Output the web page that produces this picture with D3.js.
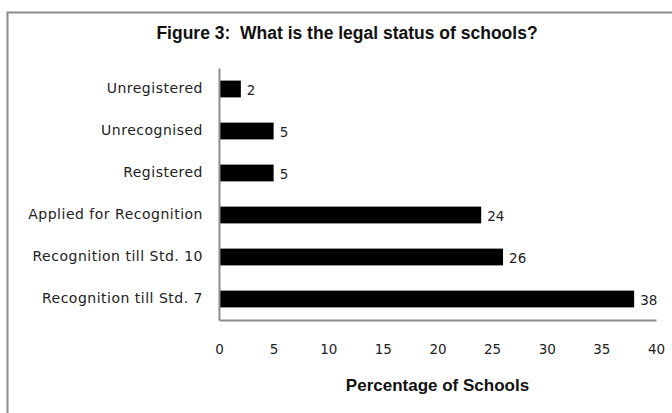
<!DOCTYPE html>
<html>
<head>
<meta charset="utf-8">
<script src="https://cdn.jsdelivr.net/npm/d3@7"></script>
<style>
  body { margin: 0; background: #fff; }
  svg { display: block; }
</style>
</head>
<body>
<svg></svg>
<script>
var categories = ["Unregistered", "Unrecognised", "Registered", "Applied for Recognition",
                  "Recognition till Std. 10", "Recognition till Std. 7"];
var values = [2, 5, 5, 24, 26, 38];
var xTicks = [0, 5, 10, 15, 20, 25, 30, 35, 40];

var svg_width = 672;
var svg_height = 413;
var margin = { top: 68, right: 16, bottom: 93, left: 219 };
var width = svg_width - margin.left - margin.right;
var height = svg_height - margin.top - margin.bottom;

var svg = d3.select("svg")
  .attr("width", svg_width)
  .attr("height", svg_height);

// outer frame, runs off the right and bottom
svg.append("rect")
  .attr("x", 7.5).attr("y", 12.5)
  .attr("width", 700).attr("height", 450)
  .attr("fill", "none")
  .attr("stroke", "#8c8c8c")
  .attr("stroke-width", 2);

svg.append("text")
  .attr("x", 347).attr("y", 39)
  .attr("text-anchor", "middle")
  .attr("font-family", "Liberation Sans, Arial, sans-serif")
  .attr("font-weight", "bold")
  .attr("font-size", "17.5px")
  .attr("fill", "#111")
  .text("Figure 3:  What is the legal status of schools?")
  .style("white-space", "pre");

var group = svg.append("g")
  .attr("transform", "translate(" + margin.left + "," + margin.top + ")");

var x = d3.scaleLinear().domain([0, 40]).range([0, 437]);
var y = d3.scaleBand().domain(categories).range([0, height]).paddingInner(0.6).paddingOuter(0.3);

group.selectAll(".bar")
  .data(values)
  .enter().append("rect")
  .attr("x", 0)
  .attr("y", function(d, i) { return y(categories[i]); })
  .attr("width", function(d) { return x(d); })
  .attr("height", y.bandwidth())
  .attr("fill", "#000");

group.selectAll(".val")
  .data(values)
  .enter().append("text")
  .attr("x", function(d) { return x(d) + 6; })
  .attr("y", function(d, i) { return y(categories[i]) + y.bandwidth() / 2 + 1; })
  .attr("dy", "0.35em")
  .attr("font-family", "DejaVu Sans, sans-serif")
  .attr("font-size", "13.5px")
  .attr("fill", "#222")
  .text(function(d) { return d; });

// y axis
var yAxis = group.append("g")
  .call(d3.axisLeft(y).tickSize(0).tickPadding(16));
yAxis.select(".domain").attr("stroke", "#8c8c8c").attr("stroke-width", 2);
yAxis.selectAll("text")
  .attr("font-family", "DejaVu Sans, sans-serif")
  .attr("font-size", "14px")
  .attr("letter-spacing", "0.5px")
  .attr("fill", "#222");

// x axis
var xAxis = group.append("g")
  .attr("transform", "translate(0," + height + ")")
  .call(d3.axisBottom(x).tickValues(xTicks).tickSize(0).tickPadding(24));
xAxis.select(".domain").attr("stroke", "#8c8c8c").attr("stroke-width", 2);
xAxis.selectAll("text")
  .attr("font-family", "DejaVu Sans, sans-serif")
  .attr("font-size", "13.5px")
  .attr("fill", "#222");

group.append("text")
  .attr("x", x(20))
  .attr("y", height + 71)
  .attr("text-anchor", "middle")
  .attr("font-family", "Liberation Sans, Arial, sans-serif")
  .attr("font-weight", "bold")
  .attr("font-size", "17px")
  .attr("fill", "#111")
  .text("Percentage of Schools");
</script>
</body>
</html>
